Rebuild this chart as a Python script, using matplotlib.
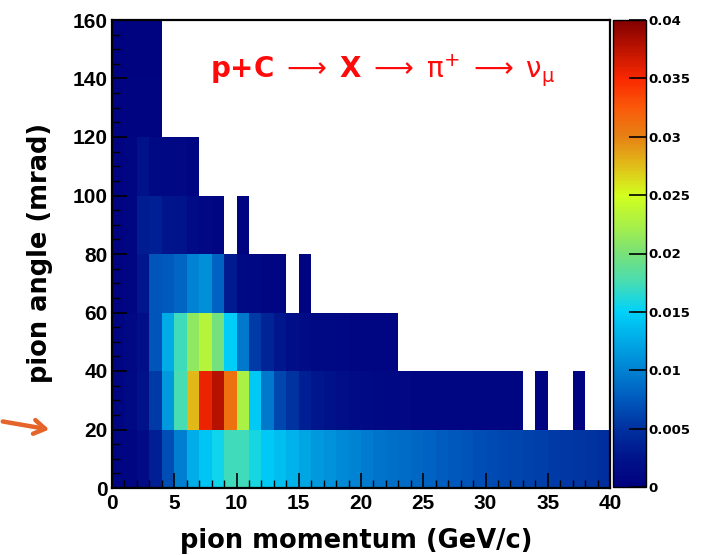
import numpy as np
import matplotlib
matplotlib.use('Agg')
import matplotlib.pyplot as plt
from matplotlib.colors import LinearSegmentedColormap
from matplotlib.ticker import MultipleLocator

# histogram binning: pion momentum (GeV/c) and pion angle (mrad)
p_edges = np.arange(0, 41, 1)
theta_edges = np.arange(0, 161, 20)

# bin contents, one list per angle row starting at p = 0 GeV/c (None = empty bin)
row_0_20 = [0.0008, 0.0009, 0.0015, 0.0035, 0.0068, 0.0098, 0.0128, 0.0142, 0.0155, 0.0172,
            0.0172, 0.0158, 0.0145, 0.0138, 0.0130, 0.0122, 0.0115, 0.0110, 0.0105, 0.0100,
            0.0096, 0.0092, 0.0089, 0.0086, 0.0083, 0.0080, 0.0077, 0.0074, 0.0071, 0.0068,
            0.0066, 0.0064, 0.0062, 0.0060, 0.0058, 0.0056, 0.0054, 0.0052, 0.0050, 0.0047]
row_20_40 = [0.0008, 0.0012, 0.0022, 0.0055, 0.0115, 0.0175, 0.0278, 0.0355, 0.0378, 0.0310,
             0.0225, 0.0145, 0.0095, 0.0063, 0.0050, 0.0035, 0.0028, 0.0022, 0.0018, 0.0015,
             0.0013, 0.0012, 0.0010, 0.0010, 0.0009, 0.0009, 0.0009, 0.0008, 0.0008, 0.0008,
             0.0007, 0.0007, 0.0007, None, 0.0005, None, None, 0.0005]
row_40_60 = [0.0008, 0.0010, 0.0018, 0.0072, 0.0125, 0.0172, 0.0212, 0.0232, 0.0198, 0.0148,
             0.0095, 0.0055, 0.0038, 0.0028, 0.0020, 0.0015, 0.0012, 0.0011, 0.0010, 0.0009,
             0.0008, 0.0008, 0.0007]
row_60_80 = [0.0006, 0.0008, 0.0028, 0.0072, 0.0075, 0.0082, 0.0100, 0.0108, 0.0080, 0.0030,
             0.0012, 0.0010, 0.0009, 0.0008, None, 0.0005]
row_80_100 = [0.0005, 0.0008, 0.0032, 0.0035, 0.0026, 0.0024, 0.0015, 0.0010, 0.0008, None,
              0.0005]
row_100_120 = [0.0005, 0.0007, 0.0022, 0.0012, 0.0010, 0.0010, 0.0008]
row_120_140 = [0.0005, 0.0005, 0.0005, 0.0005]
row_140_160 = [0.0004, 0.0004, 0.0004, 0.0004]

rows = [row_0_20, row_20_40, row_40_60, row_60_80, row_80_100,
        row_100_120, row_120_140, row_140_160]

z = np.full((len(theta_edges) - 1, len(p_edges) - 1), np.nan)
for i, row in enumerate(rows):
    for j, v in enumerate(row):
        if v is not None:
            z[i, j] = v

# ROOT-like rainbow palette
palette = ['#00007d', '#00148c', '#0032a0', '#005abe', '#0082d2', '#00aae6', '#00d2fa',
           '#46dcb4', '#78e178', '#aaf046', '#d2ff1e', '#e1be19', '#e68214', '#fa5a0a',
           '#fa2800', '#be1400', '#820000']
cmap = LinearSegmentedColormap.from_list('rootrainbow', palette, N=256)

plt.rcParams['font.family'] = ['Liberation Sans', 'DejaVu Sans']
plt.rcParams['font.weight'] = 'bold'
plt.rcParams['mathtext.fontset'] = 'custom'
plt.rcParams['mathtext.rm'] = 'DejaVu Sans:weight=normal:style=normal'
plt.rcParams['mathtext.it'] = 'DejaVu Sans:weight=normal:style=italic'
plt.rcParams['mathtext.bf'] = 'DejaVu Sans:weight=bold:style=normal'

fig = plt.figure(figsize=(7.06, 5.55), dpi=100)
W, H = 706.0, 555.0
ax = fig.add_axes([112 / W, 1 - 488 / H, 498 / W, 468 / H])
cax = fig.add_axes([613 / W, 1 - 487 / H, 33 / W, 467 / H])

mesh = ax.pcolormesh(p_edges, theta_edges, np.ma.masked_invalid(z), cmap=cmap,
                     vmin=0, vmax=0.04, edgecolors='none', antialiased=False)

ax.set_xlim(0, 40)
ax.set_ylim(0, 160)
ax.xaxis.set_major_locator(MultipleLocator(5))
ax.xaxis.set_minor_locator(MultipleLocator(1))
ax.yaxis.set_major_locator(MultipleLocator(20))
ax.yaxis.set_minor_locator(MultipleLocator(5))
ax.tick_params(which='major', direction='in', length=11, width=1.2, labelsize=15,
               top=False, right=False)
ax.tick_params(which='minor', direction='in', length=6, width=1.0, top=False, right=False)
ax.tick_params(axis='x', pad=4)
ax.tick_params(axis='y', pad=3)
for s in ax.spines.values():
    s.set_linewidth(1.6)

cb = fig.colorbar(mesh, cax=cax)
cb.set_ticks(np.arange(0, 0.0401, 0.005))
cb.set_ticklabels(['%g' % t for t in np.arange(0, 0.0401, 0.005).round(3)],
                  fontfamily='DejaVu Sans', fontweight='bold', fontsize=9.5)
cax.tick_params(direction='in', length=12, width=1.2, pad=2)
cb.outline.set_linewidth(1.0)

fig.text(356 / W, 1 - 548 / H, 'pion momentum (GeV/c)', ha='center', va='baseline',
         fontfamily='DejaVu Sans', fontweight='bold', fontsize=18.5)
fig.text(40 / W, 1 - 253 / H, 'pion angle (mrad)', ha='center', va='center', rotation=90,
         fontfamily='DejaVu Sans', fontweight='bold', fontsize=18.5)

fig.text(383 / W, 1 - 78 / H,
         r'$\mathbf{p{+}C}\;\longrightarrow\;\mathbf{X}\;\longrightarrow\;\mathrm{\pi}^{+}'
         r'\;\longrightarrow\;\mathrm{\nu}_{\mathrm{\mu}}$',
         ha='center', va='baseline', color='#ff0a0a', fontsize=20)

# arrow pointing at the 20 mrad row
ax.annotate('', xy=(52 / W, 1 - 430 / H), xytext=(0, 1 - 421 / H),
            xycoords='figure fraction', textcoords='figure fraction',
            annotation_clip=False,
            arrowprops=dict(arrowstyle='->,head_length=0.8,head_width=0.5',
                            color='#e4642a', lw=3.2))

fig.savefig('out.png', dpi=100, facecolor='white')
